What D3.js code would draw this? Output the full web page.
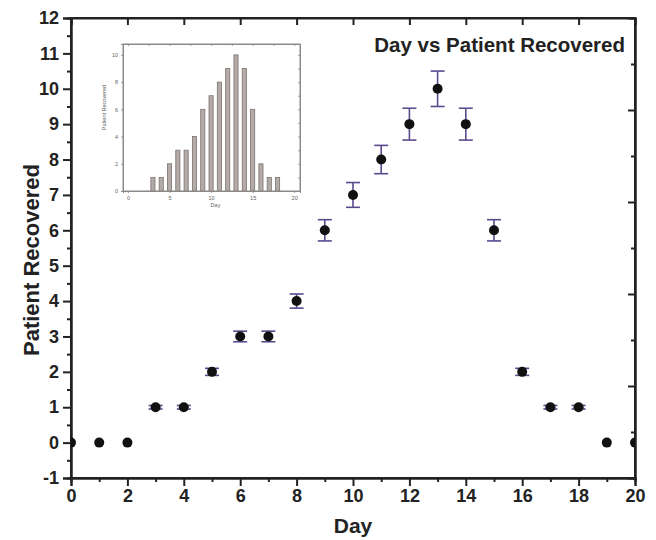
<!DOCTYPE html>
<html><head><meta charset="utf-8">
<script src="https://cdn.jsdelivr.net/npm/d3@7/dist/d3.min.js"></script>
<style>body{margin:0;background:#fff}svg{display:block}</style>
</head><body>
<svg id="c" width="656" height="540"></svg>
<script>
const days = [0,1,2,3,4,5,6,7,8,9,10,11,12,13,14,15,16,17,18,19,20];
const recovered = [0,0,0,1,1,2,3,3,4,6,7,8,9,10,9,6,2,1,1,0,0];
const errors = [0,0,0,0.05,0.05,0.1,0.15,0.15,0.2,0.3,0.35,0.4,0.45,0.5,0.45,0.3,0.1,0.05,0.05,0,0];
const xTicks = [0,2,4,6,8,10,12,14,16,18,20];
const yTicks = [-1,0,1,2,3,4,5,6,7,8,9,10,11,12];
const insetXTicks = [0,5,10,15,20];
const insetYTicks = [0,2,4,6,8,10];
const title = "Day vs Patient Recovered";

const svg = d3.select("#c");
const F = "'Liberation Sans', Arial, sans-serif";
const L = 71, R = 635, T = 18, B = 478;
const x = d3.scaleLinear().domain([0,20]).range([L,R]);
const y = d3.scaleLinear().domain([-1,12]).range([B,T]);
const yR = d3.scaleLinear().domain([0,10]).range([B,T]);
const fmt = d => String(d);

svg.append("clipPath").attr("id","clip").append("rect")
  .attr("x",L).attr("y",T).attr("width",R-L).attr("height",B-T);

svg.append("rect").attr("x",L).attr("y",T).attr("width",R-L).attr("height",B-T)
  .attr("fill","none").attr("stroke","#222").attr("stroke-width",2);

svg.append("g").attr("class","main").attr("transform",`translate(0,${B})`)
  .call(d3.axisBottom(x).tickValues(xTicks).tickSize(8).tickPadding(3).tickFormat(fmt));
svg.append("g").attr("transform",`translate(0,${B})`)
  .call(d3.axisBottom(x).tickValues(d3.range(1,20,2)).tickSize(4).tickFormat(""));
svg.append("g").attr("class","main").attr("transform",`translate(${L},0)`)
  .call(d3.axisLeft(y).tickValues(yTicks).tickSize(8).tickPadding(4).tickFormat(fmt));
svg.append("g").attr("transform",`translate(${L},0)`)
  .call(d3.axisLeft(y).tickValues(d3.range(-0.5,12,1)).tickSize(4).tickFormat(""));
svg.append("g").attr("transform",`translate(0,${T})`)
  .call(d3.axisBottom(x).tickValues(xTicks).tickSize(7).tickFormat(""));
svg.append("g").attr("transform",`translate(${R},0)`)
  .call(d3.axisLeft(yR).tickValues([2,4,6,8]).tickSize(7).tickFormat(""));
svg.append("g").attr("transform",`translate(${R},0)`)
  .call(d3.axisLeft(yR).tickValues([1,3,5,7,9]).tickSize(4).tickFormat(""));

svg.selectAll(".domain").attr("stroke","#222").attr("stroke-width",2);
svg.selectAll(".tick line").attr("stroke","#222").attr("stroke-width",2);
svg.selectAll(".main .tick text").attr("font-family",F).attr("font-weight","bold")
  .attr("font-size",18).attr("fill","#222");

svg.append("text").attr("x",(L+R)/2).attr("y",533).attr("text-anchor","middle")
  .attr("font-family",F).attr("font-weight","bold").attr("font-size",21).attr("fill","#222").text("Day");
svg.append("text").attr("transform",`translate(39,${(T+B)/2 + 12}) rotate(-90)`).attr("text-anchor","middle")
  .attr("font-family",F).attr("font-weight","bold").attr("font-size",22).attr("fill","#222").text("Patient Recovered");
svg.append("text").attr("x",625).attr("y",52).attr("text-anchor","end")
  .attr("font-family",F).attr("font-weight","bold").attr("font-size",20.5).attr("fill","#222").text(title);

const gd = svg.append("g").attr("clip-path","url(#clip)");
const data = days.map((d,i)=>({d, v:recovered[i], e:errors[i]}));
const eb = gd.selectAll(".eb").data(data.filter(p=>p.e>0)).join("g").attr("stroke","#5b4a8e").attr("stroke-width",1.6);
eb.append("line").attr("x1",p=>x(p.d)).attr("x2",p=>x(p.d)).attr("y1",p=>y(p.v-p.e)).attr("y2",p=>y(p.v+p.e));
eb.append("line").attr("x1",p=>x(p.d)-7).attr("x2",p=>x(p.d)+7).attr("y1",p=>y(p.v-p.e)).attr("y2",p=>y(p.v-p.e));
eb.append("line").attr("x1",p=>x(p.d)-7).attr("x2",p=>x(p.d)+7).attr("y1",p=>y(p.v+p.e)).attr("y2",p=>y(p.v+p.e));
gd.selectAll("circle").data(data).join("circle")
  .attr("cx",p=>x(p.d)).attr("cy",p=>y(p.v)).attr("r",5).attr("fill","#111");

const iL = 123, iR = 300, iT = 44, iB = 191;
const ix = d3.scaleLinear().domain([-0.6,20.7]).range([iL,iR]);
const iy = d3.scaleLinear().domain([0,10.8]).range([iB,iT]);
const ins = svg.append("g");
ins.append("rect").attr("x",iL).attr("y",iT).attr("width",iR-iL).attr("height",iB-iT)
  .attr("fill","#fff").attr("stroke","#8a8a8a").attr("stroke-width",1);
const bw = ix(0.5)-ix(0);
ins.selectAll(".bar").data(data.filter(p=>p.v>0)).join("rect")
  .attr("x",p=>ix(p.d)-bw/2).attr("width",bw).attr("y",p=>iy(p.v)).attr("height",p=>iy(0)-iy(p.v))
  .attr("fill","#b3aba8").attr("stroke","#7d726e").attr("stroke-width",0.8);
const ia = ins.append("g");
ia.append("g").attr("transform",`translate(0,${iB})`)
  .call(d3.axisBottom(ix).tickValues(insetXTicks).tickSize(2).tickPadding(3).tickFormat(fmt));
ia.append("g").attr("transform",`translate(${iL},0)`)
  .call(d3.axisLeft(iy).tickValues(insetYTicks).tickSize(2).tickPadding(3).tickFormat(fmt));
ia.append("g").attr("transform",`translate(0,${iT})`)
  .call(d3.axisBottom(ix).tickValues(d3.range(0,21,2.5)).tickSize(2).tickFormat(""));
ia.append("g").attr("transform",`translate(${iR},0)`)
  .call(d3.axisLeft(iy).tickValues(d3.range(1,11,1)).tickSize(2).tickFormat(""));
ia.selectAll(".domain").attr("stroke","#8a8a8a").attr("stroke-width",1);
ia.selectAll(".tick line").attr("stroke","#8a8a8a").attr("stroke-width",0.8);
ia.selectAll(".tick text").attr("font-family",F).attr("font-size",5.5).attr("fill","#666");
ins.append("text").attr("x",(iL+iR)/2+4).attr("y",iB+16).attr("text-anchor","middle")
  .attr("font-family",F).attr("font-size",5.5).attr("fill","#666").text("Day");
ins.append("text").attr("transform",`translate(${iL-17},${(iT+iB)/2-10}) rotate(-90)`).attr("text-anchor","middle")
  .attr("font-family",F).attr("font-size",5.5).attr("fill","#666").text("Patient Recovered");
</script>
</body></html>
